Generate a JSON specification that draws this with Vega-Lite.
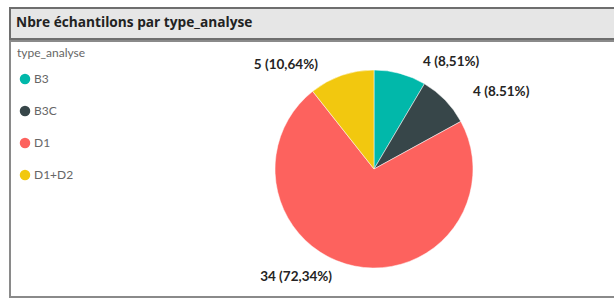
{
  "$schema": "https://vega.github.io/schema/vega-lite/v6.json",
  "background": "white",
  "padding": {"left": 9, "top": 7, "right": 0, "bottom": 0},
  "spacing": 0,
  "resolve": {"legend": {"color": "independent"}, "scale": {"color": "independent"}},
  "datasets": {
    "slices": [
      {"type": "B3", "count": 4, "label": "4 (8,51%)"},
      {"type": "B3C", "count": 4, "label": "4 (8.51%)"},
      {"type": "D1", "count": 34, "label": "34 (72,34%)"},
      {"type": "D1+D2", "count": 5, "label": "5 (10,64%)"}
    ]
  },
  "vconcat": [
    {
      "width": 728,
      "height": 31,
      "view": {"fill": "#e6e6e6", "stroke": "#6e6e6e", "strokeWidth": 2},
      "title": {
        "text": "Nbre échantilons par type_analyse",
        "anchor": "start",
        "orient": "top",
        "offset": -22,
        "dx": 6,
        "font": "Open Sans",
        "fontSize": 13.7,
        "fontWeight": "bold",
        "color": "#222222"
      },
      "data": {"values": [{"t": ""}]},
      "mark": {"type": "text"},
      "encoding": {"text": {"field": "t"}}
    },
    {
      "width": 728,
      "height": 256,
      "view": {"fill": "white", "stroke": "#8a8a8a", "strokeWidth": 2},
      "data": {"name": "slices"},
      "encoding": {
        "theta": {"field": "count", "type": "quantitative", "stack": true},
        "order": {"field": "type", "type": "ordinal", "sort": "ascending"}
      },
      "layer": [
        {
          "mark": {"type": "arc", "outerRadius": 99, "stroke": "white", "strokeWidth": 0.5},
          "encoding": {
            "color": {
              "field": "type",
              "type": "nominal",
              "title": "type_analyse",
              "scale": {
                "domain": ["B3", "B3C", "D1", "D1+D2"],
                "range": ["#01B8AA", "#374649", "#FD625E", "#F2C80F"]
              },
              "legend": {
                "orient": "top-left",
                "offset": 7,
                "symbolType": "circle",
                "symbolSize": 110,
                "symbolOpacity": 1,
                "symbolStrokeWidth": 0,
                "symbolOffset": 2,
                "titleFont": "Lato",
                "titleFontSize": 12,
                "titleFontWeight": "normal",
                "titleColor": "#666666",
                "titlePadding": 13,
                "labelFont": "Lato",
                "labelFontSize": 12,
                "labelColor": "#666666",
                "labelOffset": 3,
                "rowPadding": 20
              }
            }
          }
        },
        {
          "mark": {"type": "text", "radius": 110, "align": "left", "baseline": "middle", "dx": 20, "dy": -1, "font": "Lato", "fontSize": 13.5, "fontWeight": "bold", "color": "#252423"},
          "encoding": {
            "detail": {"field": "type", "type": "nominal"},
            "text": {"field": "label"},
            "opacity": {"condition": {"test": "datum.type === 'B3' || datum.type === 'B3C'", "value": 1}, "value": 0}
          }
        },
        {
          "mark": {"type": "text", "radius": 110, "align": "right", "baseline": "middle", "dx": -20, "font": "Lato", "fontSize": 13.5, "fontWeight": "bold", "color": "#252423"},
          "encoding": {
            "detail": {"field": "type", "type": "nominal"},
            "text": {"field": "label"},
            "opacity": {"condition": {"test": "datum.type === 'D1' || datum.type === 'D1+D2'", "value": 1}, "value": 0}
          }
        }
      ]
    }
  ]
}
